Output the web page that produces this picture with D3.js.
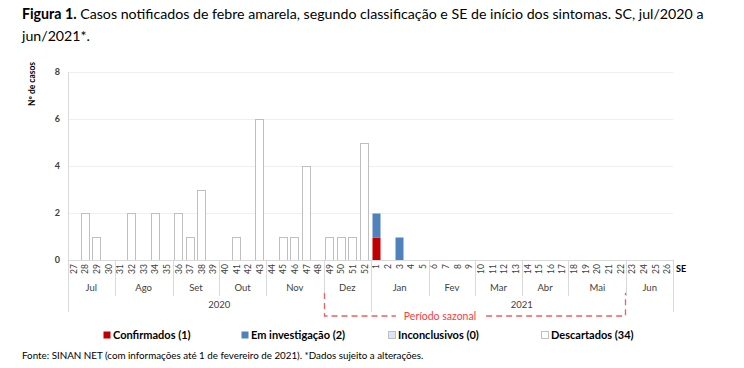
<!DOCTYPE html>
<html>
<head>
<meta charset="utf-8">
<script src="https://cdn.jsdelivr.net/npm/d3@7"></script>
<style>
  body { margin: 0; background: #fff; }
  svg { display: block; font-family: Lato, "Open Sans", sans-serif; }
</style>
</head>
<body>
<svg id="chart" width="744" height="368"></svg>
<script>
// data
var weeks2020 = [27, 28, 29, 30, 31, 32, 33, 34, 35, 36, 37, 38, 39, 40, 41, 42, 43, 44, 45, 46, 47, 48, 49, 50, 51, 52];
var weeks2021 = [1, 2, 3, 4, 5, 6, 7, 8, 9, 10, 11, 12, 13, 14, 15, 16, 17, 18, 19, 20, 21, 22, 23, 24, 25, 26];
var confirmados    = [0,0,0,0,0,0,0,0,0,0,0,0,0,0,0,0,0,0,0,0,0,0,0,0,0,0, 1,0,0,0,0,0,0,0,0,0,0,0,0,0,0,0,0,0,0,0,0,0,0,0,0,0];
var emInvestigacao = [0,0,0,0,0,0,0,0,0,0,0,0,0,0,0,0,0,0,0,0,0,0,0,0,0,0, 1,0,1,0,0,0,0,0,0,0,0,0,0,0,0,0,0,0,0,0,0,0,0,0,0,0];
var inconclusivos  = [0,0,0,0,0,0,0,0,0,0,0,0,0,0,0,0,0,0,0,0,0,0,0,0,0,0, 0,0,0,0,0,0,0,0,0,0,0,0,0,0,0,0,0,0,0,0,0,0,0,0,0,0];
var descartados    = [0,2,1,0,0,2,0,2,0,2,1,3,0,0,1,0,6,0,1,1,4,0,1,1,1,5, 0,0,0,0,0,0,0,0,0,0,0,0,0,0,0,0,0,0,0,0,0,0,0,0,0,0];
var months = ["Jul", "Ago", "Set", "Out", "Nov", "Dez", "Jan", "Fev", "Mar", "Abr", "Mai", "Jun"];
var monthWeeks = [4, 5, 4, 4, 5, 4, 5, 4, 4, 4, 5, 4];
var years = ["2020", "2021"];
var yearWeeks = [26, 26];
var yTicks = [0, 2, 4, 6, 8];
var periodStart = "2020-49", periodEnd = "2021-22";
var legendItems = ["Confirmados (1)", "Em investigação (2)", "Inconclusivos (0)", "Descartados (34)"];
var seriesColors = ["#c00000", "#4f81bd", "#dce6f2", "#ffffff"];

var keys = weeks2020.map(function(w) { return "2020-" + w; })
  .concat(weeks2021.map(function(w) { return "2021-" + w; }));
var labels = weeks2020.concat(weeks2021);

var svg = d3.select("#chart");
var plotL = 68, plotR = 673, plotT = 72, plotB = 260;

var x = d3.scaleBand().domain(keys).range([plotL, plotR]).paddingInner(0.2).paddingOuter(0.1);
var y = d3.scaleLinear().domain([0, 8]).range([plotB, plotT]);
var step = x.step();
function edge(i) { return plotL + i * step; }

// title
var title = svg.append("text").attr("x", 22).attr("y", 19).attr("font-size", 14.2).attr("fill", "#000");
title.append("tspan").attr("font-weight", "bold").text("Figura 1.");
title.append("tspan").text(" Casos notificados de febre amarela, segundo classificação e SE de início dos sintomas. SC, jul/2020 a");
svg.append("text").attr("x", 22).attr("y", 41).attr("font-size", 14.2).text("jun/2021*.");

// gridlines
svg.append("g").selectAll("line").data(yTicks.slice(1)).join("line")
  .attr("x1", plotL).attr("x2", plotR)
  .attr("y1", function(d) { return Math.round(y(d)) + 0.5; }).attr("y2", function(d) { return Math.round(y(d)) + 0.5; })
  .attr("stroke", "#efefef");

// y axis
svg.append("line").attr("x1", plotL + 0.5).attr("x2", plotL + 0.5).attr("y1", plotT).attr("y2", plotB)
  .attr("stroke", "#d9d9d9");
svg.append("g").selectAll("text").data(yTicks).join("text")
  .attr("x", 60).attr("y", function(d) { return y(d) + 3; })
  .attr("text-anchor", "end").attr("font-size", 9).attr("font-weight", "bold").attr("fill", "#404040")
  .text(function(d) { return d; });
svg.append("text").attr("transform", "translate(35,84) rotate(-90)")
  .attr("text-anchor", "middle").attr("font-size", 8.5).attr("font-weight", "bold").attr("fill", "#000")
  .text("Nº de casos");

// stacked bars
var stackData = keys.map(function(k, i) {
  return { key: k, c: confirmados[i], e: emInvestigacao[i], n: inconclusivos[i], d: descartados[i] };
});
var stack = d3.stack().keys(["c", "e", "n", "d"])(stackData);
svg.append("g").selectAll("g").data(stack).join("g")
  .attr("fill", function(d, i) { return seriesColors[i]; })
  .attr("stroke", function(d, i) { return i >= 2 ? "#bfbfbf" : "none"; })
  .selectAll("rect").data(function(d) { return d.filter(function(p) { return p[1] > p[0]; }); }).join("rect")
  .attr("x", function(p) { return Math.round(x(p.data.key)) + 0.5; })
  .attr("y", function(p) { return Math.round(y(p[1])) + 0.5; })
  .attr("width", Math.round(x.bandwidth()) - 1)
  .attr("height", function(p) { return Math.round(y(p[0])) - Math.round(y(p[1])); });

// x axis line
svg.append("line").attr("x1", plotL).attr("x2", plotR).attr("y1", plotB + 0.5).attr("y2", plotB + 0.5)
  .attr("stroke", "#d9d9d9");

// week labels
svg.append("g").selectAll("text").data(keys).join("text")
  .attr("transform", function(k) { return "translate(" + (x(k) + x.bandwidth() / 2 + 3) + "," + (plotB + 4) + ") rotate(-90)"; })
  .attr("text-anchor", "end").attr("font-size", 8.5).attr("fill", "#404040")
  .text(function(k, i) { return labels[i]; });
svg.append("text").attr("x", plotR + 3).attr("y", 272).attr("font-size", 9).attr("font-weight", "bold").text("SE");

// month separators and labels
var acc = 0;
months.forEach(function(m, i) {
  var x0 = edge(acc), x1 = edge(acc + monthWeeks[i]);
  svg.append("text").attr("x", (x0 + x1) / 2).attr("y", 291).attr("text-anchor", "middle")
    .attr("font-size", 9.5).attr("fill", "#404040").text(m);
  acc += monthWeeks[i];
  if (i < months.length - 1) {
    svg.append("line").attr("x1", Math.round(x1) + 0.5).attr("x2", Math.round(x1) + 0.5)
      .attr("y1", plotB).attr("y2", 296).attr("stroke", "#d9d9d9");
  }
});

// year separators and labels
var yacc = 0;
svg.append("line").attr("x1", plotL + 0.5).attr("x2", plotL + 0.5).attr("y1", plotB).attr("y2", 312).attr("stroke", "#d9d9d9");
years.forEach(function(yr, i) {
  var x0 = edge(yacc), x1 = edge(yacc + yearWeeks[i]);
  svg.append("text").attr("x", (x0 + x1) / 2).attr("y", 308).attr("text-anchor", "middle")
    .attr("font-size", 9.5).attr("fill", "#404040").text(yr);
  yacc += yearWeeks[i];
  svg.append("line").attr("x1", Math.round(x1) + 0.5).attr("x2", Math.round(x1) + 0.5)
    .attr("y1", plotB).attr("y2", 312).attr("stroke", "#d9d9d9");
});

// seasonal period bracket
var px0 = Math.round(edge(keys.indexOf(periodStart))) + 0.5;
var px1 = Math.round(edge(keys.indexOf(periodEnd) + 1)) - 0.5;
var py0 = 293, py1 = 316;
var plabel = svg.append("text").attr("x", 440).attr("y", py1 + 4).attr("text-anchor", "middle")
  .attr("font-size", 10.5).attr("fill", "#ff3b3b").text("Período sazonal");
var lb = plabel.node().getBBox();
var dash = { stroke: "#f25c5c", "stroke-width": 1.3, "stroke-dasharray": "6,4", fill: "none" };
[[[px0, py0], [px0, py1], [lb.x - 8, py1]], [[lb.x + lb.width + 10, py1], [px1, py1], [px1, py0]]].forEach(function(pts) {
  var p = svg.append("path").attr("d", d3.line()(pts));
  Object.keys(dash).forEach(function(a) { p.attr(a, dash[a]); });
});

// legend
var legendX = [103, 241, 388, 541];
var lg = svg.append("g").selectAll("g").data(legendItems).join("g")
  .attr("transform", function(d, i) { return "translate(" + legendX[i] + ",331)"; });
lg.append("rect").attr("x", 0.5).attr("y", 0.5).attr("width", 7).attr("height", 7)
  .attr("fill", function(d, i) { return seriesColors[i]; })
  .attr("stroke", function(d, i) { return i >= 2 ? "#bfbfbf" : "none"; });
lg.append("text").attr("x", 10).attr("y", 8).attr("font-size", 11).attr("font-weight", "bold")
  .attr("fill", "#000").text(function(d) { return d; });

// footer
svg.append("text").attr("x", 22).attr("y", 359).attr("font-size", 9.8).attr("fill", "#000")
  .text("Fonte: SINAN NET (com informações até 1 de fevereiro de 2021). *Dados sujeito a alterações.");
</script>
</body>
</html>
